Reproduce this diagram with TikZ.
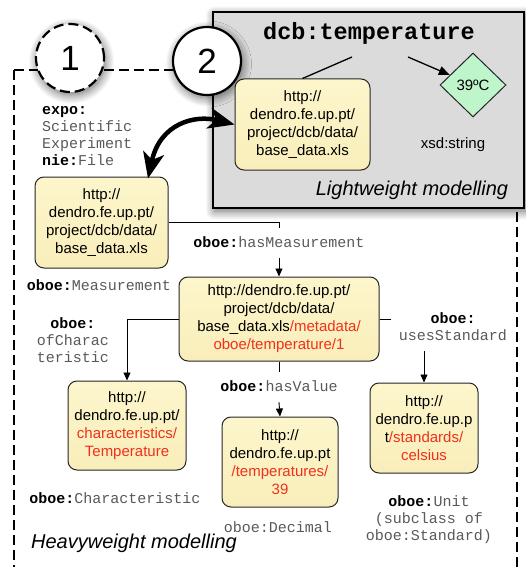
\documentclass[tikz,border=0pt]{standalone}
\usepackage{fontspec}
\setmainfont{Liberation Sans}
\setmonofont{Liberation Mono}
\usetikzlibrary{arrows.meta,shapes.geometric,shadows.blur,calc}

\definecolor{notetop}{HTML}{FDF6CC}
\definecolor{notebottom}{HTML}{F9EEBA}
\definecolor{notered}{HTML}{F2301B}
\definecolor{panelgray}{HTML}{DBDBDB}
\definecolor{valuegreen}{HTML}{BEF5CB}
\definecolor{termgray}{HTML}{595959}

% bold namespace prefix and highlighted URI part
\newcommand{\pfx}[1]{{\bfseries\color{black}#1}}
\newcommand{\hl}[1]{{\color{notered}#1}}

\tikzset{linktip/.tip={Stealth[length=26pt,width=21pt,inset=7pt]}}

\begin{document}
\begin{tikzpicture}[x=1pt,y=-1pt,
  resbox/.style={draw=black!85, line width=1pt, top color=notetop,
    bottom color=notebottom, rounded corners=9pt, align=center, inner sep=0pt,
    font=\fontsize{15}{18}\selectfont},
  term/.style={font=\ttfamily\fontsize{15}{17}\selectfont, text=termgray,
    align=center, inner sep=0pt},
  edgelabel/.style={term, text height=11pt, text depth=3pt, inner ysep=8pt},
  conn/.style={line width=0.9pt},
  tip/.style={-{Triangle[length=8pt,width=7pt]}},
  softshadow/.style={blur shadow={shadow xshift=1.5pt, shadow yshift=-3pt,
    shadow blur radius=9pt, shadow blur steps=14, shadow opacity=60}},
  badge/.style={circle, fill=white, line width=2.2pt, minimum size=68pt,
    inner sep=0pt, font=\fontsize{35}{40}\selectfont, softshadow},
  border/.style={line width=2pt, dash pattern=on 10pt off 5pt},
  caption/.style={font=\itshape\fontsize{20}{24}\selectfont, inner sep=0pt}
]
\useasboundingbox (0,0) rectangle (526,567);

% heavyweight region outline
\draw[border] (14,70) -- (14,567);
\draw[border] (14,70) -- (517,70) -- (517,567);

\node[badge, draw, dash pattern=on 10pt off 5pt] (one) at (70,58) {1};

% lightweight panel
\node[draw, line width=1.6pt, fill=panelgray, minimum width=311pt,
  minimum height=196pt, inner sep=0pt, softshadow] (panel) at (368.5,110) {};

\node[badge, draw] (two) at (207,61) {2};

% lightweight content
\node[font=\ttfamily\bfseries\fontsize{23.5}{26}\selectfont, inner sep=0pt]
  (dcb) at (369,33) {dcb:temperature};
\node[resbox, minimum width=135pt, minimum height=91pt] (lw) at (302.5,124.5)
  {http://\\dendro.fe.up.pt/\\project/dcb/data/\\base\_data.xls};
\node[diamond, draw=black!85, line width=1pt, fill=valuegreen,
  minimum width=66pt, minimum height=64pt, inner sep=0pt,
  font=\fontsize{15}{18}\selectfont] (temp) at (473,85) {39ºC};
\node[font=\fontsize{15}{18}\selectfont, inner sep=0pt] (xsd) at (453,145) {xsd:string};
\node[caption] (lwcap) at (412,190) {Lightweight modelling};

\coordinate (dcbl) at (352,57);
\coordinate (dcbr) at (408,57);
\draw[line width=1.3pt] (dcbl) -- (lw.north);
\draw[line width=1.3pt, -{Triangle[length=11pt,width=9pt]}] (dcbr) -- (temp);

% heavyweight content
\node[term, anchor=west, align=left] (expo) at (42,136)
  {\pfx{expo:}\\Scientific\\Experiment\\\pfx{nie:}File};
\node[resbox, minimum width=133pt, minimum height=91pt] (file) at (101.5,222.5)
  {http://\\dendro.fe.up.pt/\\project/dcb/data/\\base\_data.xls};
\node[term] (measlbl) at (99,285) {\pfx{oboe:}Measurement};

\node[resbox, minimum width=200pt, minimum height=84pt] (meas) at (279,319)
  {http://dendro.fe.up.pt/\\project/dcb/data/\\base\_data.xls\hl{/metadata/}\\\hl{oboe/temperature/1}};

\node[edgelabel] (hm) at (279,243) {\pfx{oboe:}hasMeasurement};
\node[term] (ofc) at (73,340) {\pfx{oboe:}\\ofCharac\\teristic};
\node[term, inner xsep=8pt, inner ysep=10pt] (us) at (453,327) {\pfx{oboe:}\\usesStandard};
\node[edgelabel] (hv) at (279,387) {\pfx{oboe:}hasValue};

\node[resbox, minimum width=118pt, minimum height=89pt] (char) at (127,425.5)
  {http://\\dendro.fe.up.pt/\\\hl{characteristics/}\\\hl{Temperature}};
\node[resbox, minimum width=116pt, minimum height=90pt] (val) at (280,462)
  {http://\\dendro.fe.up.pt\\\hl{/temperatures/}\\\hl{39}};
\node[resbox, minimum width=108pt, minimum height=90pt] (unit) at (424,428)
  {http://\\dendro.fe.up.p\\t\hl{/standards/}\\\hl{celsius}};

\node[term] (charlbl) at (115,498) {\pfx{oboe:}Characteristic};
\node[term] (declbl) at (278,527) {oboe:Decimal};
\node[term] (unitlbl) at (429,520) {\pfx{oboe:}Unit\\(subclass of\\oboe:Standard)};
\node[caption] (hwcap) at (134,543) {Heavyweight modelling};

% connectors
\draw[conn] (file.east) -| (hm.north);
\draw[conn, tip] (hm.south) -- (meas.north);
\draw[conn, tip] (meas.west) -| (char.north);
\draw[conn] (meas.south) -- (hv.north);
\draw[conn, tip] (hv.south) -- (val.north);
\draw[conn] (meas.east) -- (meas.east -| us.west);
\draw[conn, tip] (us.south -| unit.north) -- (unit.north);

% link between the two descriptions of the same file
\draw[line width=4.5pt, {linktip}-{linktip}]
  ([xshift=46.5pt,yshift=-2pt]file.north) .. controls +(12,-55) and +(-40,-10) .. (lw.west);
\end{tikzpicture}
\end{document}
